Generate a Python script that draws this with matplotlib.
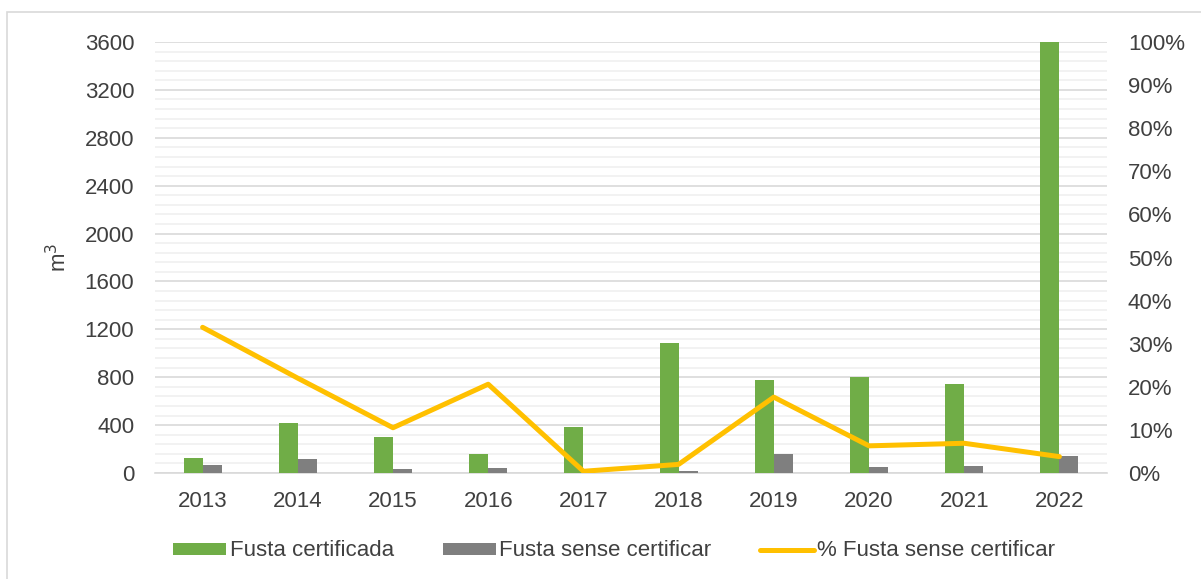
import numpy as np
import matplotlib.pyplot as plt
from matplotlib.patches import Rectangle
from matplotlib.ticker import MultipleLocator, FuncFormatter

plt.rcParams['font.family'] = ['Liberation Sans', 'DejaVu Sans']

years = ['2013', '2014', '2015', '2016', '2017', '2018', '2019', '2020', '2021', '2022']
certificada = [128, 418, 298, 161, 384, 1089, 774, 799, 746, 3600]
sense_cert = [64, 117, 33, 42, 2, 19, 159, 54, 56, 142]
pct_sense = [33.8, 22.0, 10.5, 20.6, 0.4, 2.0, 17.6, 6.3, 6.9, 3.8]

green = '#70AD47'
grey = '#7F7F7F'
yellow = '#FFC000'
txt = '#404040'
fs = 16

fig = plt.figure(figsize=(12.01, 5.79), dpi=100)
fig.patches.append(Rectangle((7 / 1201, -0.1), 1.2, 1 - 12 / 579 + 0.1, transform=fig.transFigure,
                             fill=False, edgecolor='#D9D9D9', linewidth=1.2))
ax = fig.add_axes([155 / 1201, 1 - 473 / 579, 952 / 1201, 431 / 579])
ax2 = ax.twinx()

x = np.arange(len(years))
w = 0.2
ax.bar(x - w / 2, certificada, w, color=green, label='Fusta certificada', zorder=3)
ax.bar(x + w / 2, sense_cert, w, color=grey, label='Fusta sense certificar', zorder=3)
ax2.plot(x, pct_sense, color=yellow, linewidth=3.6, solid_capstyle='round',
         solid_joinstyle='round', label='% Fusta sense certificar')

ax.set_xlim(-0.5, len(years) - 0.5)
ax.set_ylim(0, 3600)
ax2.set_ylim(0, 100)
ax.yaxis.set_major_locator(MultipleLocator(400))
ax.yaxis.set_minor_locator(MultipleLocator(80))
ax2.yaxis.set_major_locator(MultipleLocator(10))
ax2.yaxis.set_major_formatter(FuncFormatter(lambda v, p: f'{v:.0f}%'))

ax.grid(axis='y', which='major', color='#D9D9D9', linewidth=1.2, zorder=0)
ax.grid(axis='y', which='minor', color='#F0F0F0', linewidth=1.2, zorder=0)
ax.set_axisbelow(True)

ax.set_xticks(x)
ax.set_xticklabels(years)
ax.tick_params(axis='x', length=0, pad=13, labelsize=fs, labelcolor=txt)
ax.tick_params(axis='y', which='both', length=0, pad=15, labelsize=fs, labelcolor=txt)
ax2.tick_params(axis='y', length=0, pad=15, labelsize=fs, labelcolor=txt)

for a in (ax, ax2):
    for s in ('top', 'left', 'right'):
        a.spines[s].set_visible(False)
ax2.spines['bottom'].set_visible(False)
ax.spines['bottom'].set_color('#D9D9D9')
ax.spines['bottom'].set_linewidth(1.2)

ax.set_ylabel('m$^3$', fontsize=fs, color=txt)
ax.yaxis.set_label_coords(-0.088, 0.5)

h1, l1 = ax.get_legend_handles_labels()
h2, l2 = ax2.get_legend_handles_labels()
fig.legend(h1 + h2, l1 + l2, loc='center', bbox_to_anchor=(614 / 1201, 1 - 551 / 579),
           ncol=3, frameon=False, fontsize=fs, labelcolor=txt, handlelength=2.4,
           handleheight=0.45, handletextpad=0.15, columnspacing=2.2)

fig.savefig('out.png', dpi=100)
